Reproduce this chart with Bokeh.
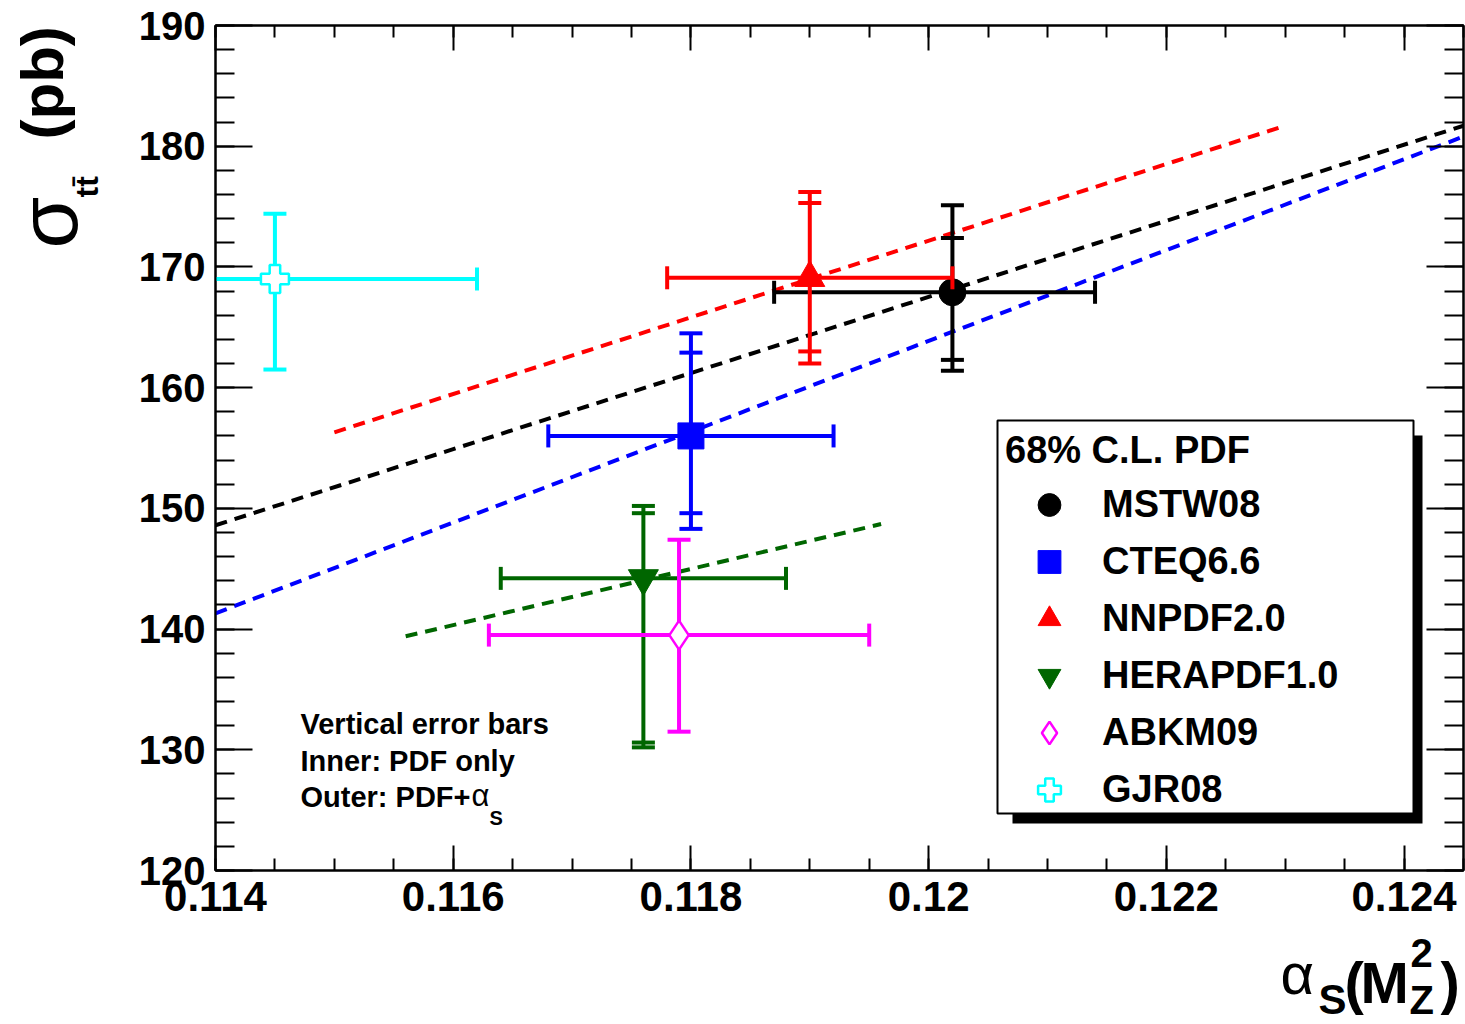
import numpy as np
from bokeh.plotting import figure
from bokeh.layouts import row, column
from bokeh.models import (Range1d, SingleIntervalTicker, LinearAxis, CustomJSTickFormatter,
                          Label, BoxAnnotation, Legend, LegendItem)
from bokeh.embed import file_html
from bokeh.resources import INLINE

# ---------------- data ----------------
names = ["MSTW08", "CTEQ6.6", "NNPDF2.0", "HERAPDF1.0", "ABKM09", "GJR08"]
alphas = [0.1202, 0.1180, 0.1190, 0.1176, 0.1179, 0.1145]
alphas_lo = [0.1187, 0.1168, 0.1178, 0.1164, 0.1163, 0.1128]
alphas_hi = [0.1214, 0.1192, 0.1202, 0.1188, 0.1195, 0.1162]
sigma = [167.9, 156.0, 169.1, 144.2, 139.5, 169.0]
inner_lo = [162.3, 149.6, 163.0, 130.6, 131.5, 161.5]
inner_hi = [172.4, 162.9, 175.3, 149.6, 147.4, 174.4]
outer_lo = [161.4, 148.3, 162.0, 130.2, None, None]
outer_hi = [175.1, 164.5, 176.2, 150.2, None, None]

fit_names = ["MSTW08", "CTEQ6.6", "NNPDF2.0", "HERAPDF1.0"]
fit_alpha_start = [0.1140, 0.1140, 0.1150, 0.1156]
fit_alpha_end = [0.1245, 0.1245, 0.1230, 0.1196]
fit_sigma_start = [148.6, 141.3, 156.3, 139.4]
fit_sigma_end = [181.7, 180.8, 181.7, 148.7]

x_tick_step = 0.002
y_tick_step = 10

# ---------------- styles ----------------
colors = {"MSTW08": "#000000", "CTEQ6.6": "#0000ff", "NNPDF2.0": "#ff0000",
          "HERAPDF1.0": "#006600", "ABKM09": "#ff00ff", "GJR08": "#00ffff"}
markers = {"MSTW08": ("circle", 27, True), "CTEQ6.6": ("square", 26, True),
           "NNPDF2.0": ("triangle", 30, True), "HERAPDF1.0": ("inverted_triangle", 30, True),
           "ABKM09": ("diamond", 29, False), "GJR08": ("plus", 28, False)}
FONT = "Liberation Sans"
BASELINE_FIX = 0.34   # empirical shift of Bokeh's alphabetic baseline, in em

X_MIN, X_MAX = 0.114, 0.1245
Y_MIN, Y_MAX = 120, 190

TOTAL_W, TOTAL_H = 1465, 1024
YT_W = 110          # width of the strip holding the y title
XT_H = 94           # height of the strip holding the x title
MAIN_W = TOTAL_W - YT_W
MAIN_H = TOTAL_H - XT_H
FRAME_L, FRAME_T, FRAME_R, FRAME_B = 215, 25, 1463, 870   # page pixels

p = figure(width=MAIN_W, height=MAIN_H, output_backend="svg", toolbar_location=None,
           x_range=Range1d(X_MIN, X_MAX), y_range=Range1d(Y_MIN, Y_MAX),
           x_axis_type=None, y_axis_type=None,
           min_border_left=FRAME_L - YT_W, min_border_right=TOTAL_W - FRAME_R,
           min_border_top=FRAME_T, min_border_bottom=MAIN_H - FRAME_B)
p.background_fill_color = "white"
p.border_fill_color = "white"
p.outline_line_color = "black"
p.outline_line_width = 2

xfmt = CustomJSTickFormatter(code="return String(Number(tick.toFixed(3)));")
yfmt = CustomJSTickFormatter(code="return tick.toFixed(0);")
blank = CustomJSTickFormatter(code="return '';")


def style_axis(ax, horizontal, labels):
    ax.axis_line_width = 2
    ax.axis_line_color = "black"
    ax.major_tick_line_width = 2
    ax.minor_tick_line_width = 2
    ax.major_tick_out = 0
    ax.minor_tick_out = 0
    if horizontal:
        ax.major_tick_in = 25
        ax.minor_tick_in = 12
    else:
        ax.major_tick_in = 37
        ax.minor_tick_in = 19
    ax.major_label_text_font = FONT
    ax.major_label_text_font_style = "bold"
    ax.major_label_text_color = "black"
    if not labels:
        ax.major_label_standoff = 0
        ax.major_label_text_font_size = "8px"


xb = LinearAxis(ticker=SingleIntervalTicker(interval=x_tick_step, num_minor_ticks=4), formatter=xfmt)
style_axis(xb, True, True)
xb.major_label_text_font_size = "42px"
xb.major_label_standoff = 11
xt = LinearAxis(ticker=SingleIntervalTicker(interval=x_tick_step, num_minor_ticks=4), formatter=blank)
style_axis(xt, True, False)
yl = LinearAxis(ticker=SingleIntervalTicker(interval=y_tick_step, num_minor_ticks=5), formatter=yfmt)
style_axis(yl, False, True)
yl.major_label_text_font_size = "40px"
yl.major_label_standoff = 10
yr = LinearAxis(ticker=SingleIntervalTicker(interval=y_tick_step, num_minor_ticks=5), formatter=blank)
style_axis(yr, False, False)
p.add_layout(xb, "below")
p.add_layout(xt, "above")
p.add_layout(yl, "left")
p.add_layout(yr, "right")

# fitted dashed lines
for i, n in enumerate(fit_names):
    p.line(x=[fit_alpha_start[i], fit_alpha_end[i]], y=[fit_sigma_start[i], fit_sigma_end[i]],
           line_color=colors[n], line_width=4, line_dash="12 8")

# points with error bars
marker_renderers = {}
for i, n in enumerate(names):
    c = colors[n]
    lo = outer_lo[i] if outer_lo[i] is not None else inner_lo[i]
    hi = outer_hi[i] if outer_hi[i] is not None else inner_hi[i]
    p.segment(x0=[alphas[i]], y0=[lo], x1=[alphas[i]], y1=[hi], line_color=c, line_width=4)
    p.segment(x0=[alphas_lo[i]], y0=[sigma[i]], x1=[alphas_hi[i]], y1=[sigma[i]], line_color=c, line_width=4)
    caps_y = [inner_lo[i], inner_hi[i]]
    if outer_lo[i] is not None:
        caps_y += [outer_lo[i], outer_hi[i]]
    p.scatter(x=[alphas[i]] * len(caps_y), y=caps_y, marker="dash", size=23, line_color=c, line_width=4)
    p.scatter(x=[alphas_lo[i], alphas_hi[i]], y=[sigma[i], sigma[i]], marker="dash", angle=np.pi / 2,
              size=23, line_color=c, line_width=4)
    mk, sz, filled = markers[n]
    r = p.scatter(x=[alphas[i]], y=[sigma[i]], marker=mk, size=sz, line_color=c,
                  fill_color=c if filled else "white", line_width=1 if filled else 2.5)
    marker_renderers[n] = r


def make_label(text, x, y, size, bold=True, rotated=False):
    # x, y: screen position of the text's start on its baseline (frame relative, y up)
    if rotated:
        x = x - BASELINE_FIX * size
    else:
        y = y + BASELINE_FIX * size
    return Label(x=x, y=y, x_units="screen", y_units="screen", text=text,
                 text_font=FONT, text_font_size=f"{size}px",
                 text_font_style="bold" if bold else "normal", text_color="black",
                 text_align="left", text_baseline="alphabetic",
                 angle=np.pi / 2 if rotated else 0.0)


# ---------------- annotations inside the main frame (page pixel positions) ----------------
def sx(px):
    return px - FRAME_L


def sy(py):
    return FRAME_B - py


# legend box and shadow
p.add_layout(BoxAnnotation(left=sx(1012), right=sx(1422), top=sy(435), bottom=sy(823),
                           left_units="screen", right_units="screen", top_units="screen",
                           bottom_units="screen", fill_color="black", fill_alpha=1,
                           line_alpha=0))
p.add_layout(BoxAnnotation(left=sx(997), right=sx(1413), top=sy(420), bottom=sy(813),
                           left_units="screen", right_units="screen", top_units="screen",
                           bottom_units="screen", fill_color="white", fill_alpha=1,
                           line_color="black", line_alpha=1, line_width=2))

legend = Legend(items=[LegendItem(label=n, renderers=[marker_renderers[n]]) for n in names],
                location=(sx(997), sy(826)), title="68% C.L. PDF",
                title_text_font=FONT, title_text_font_style="bold", title_text_font_size="38px",
                title_text_color="black", title_standoff=4,
                label_text_font=FONT, label_text_font_style="bold", label_text_color="black",
                label_text_font_size="38px", glyph_width=88, glyph_height=57, label_height=57,
                spacing=0, padding=8, margin=0, label_standoff=9, label_width=303,
                border_line_alpha=0, background_fill_alpha=0)
p.add_layout(legend)

# note text
for txt, px, py, size, bold in [("Vertical error bars", 300, 733, 29, True),
                                ("Inner: PDF only", 300, 770, 29, True),
                                ("Outer: PDF+", 300, 806, 29, True),
                                ("\u03b1", 471, 806, 31, False),
                                ("S", 489, 824, 20, True)]:
    p.add_layout(make_label(txt, sx(px), sy(py), size, bold))


# ---------------- title strips ----------------
def strip(w, h):
    f = figure(width=w, height=h, output_backend="svg", toolbar_location=None,
               x_range=Range1d(0, 1), y_range=Range1d(0, 1), x_axis_type=None, y_axis_type=None,
               min_border=0, min_border_left=0, min_border_right=0, min_border_top=0,
               min_border_bottom=0)
    f.outline_line_color = None
    f.background_fill_color = "white"
    f.border_fill_color = "white"
    return f


# y title strip: in a row its frame is aligned with the main frame (page y 25..870)
yfig = strip(YT_W, MAIN_H)
for txt, px, py, size, bold in [("(pb)", 62, 139, 60, True),
                                ("\u03c3", 76, 248, 84, False),
                                ("tt\u0304", 97, 197, 32, True)]:
    yfig.add_layout(make_label(txt, px, FRAME_B - py, size, bold, rotated=True))

# x title strip: frame is the whole strip (page y 930..1024)
xfig = strip(TOTAL_W, XT_H)
for txt, px, py, size, bold in [("\u03b1", 1280, 993, 58, False),
                                ("S", 1318, 1013, 42, True),
                                ("(", 1344, 1002, 58, True),
                                ("M", 1360, 1002, 58, True),
                                ("2", 1410, 966, 40, True),
                                ("Z", 1409, 1013, 40, True),
                                (")", 1440, 1002, 58, True)]:
    xfig.add_layout(make_label(txt, px, TOTAL_H - py, size, bold))

layout = column(row(yfig, p, spacing=0), xfig, spacing=0)
open("out.html", "w").write(file_html(layout, INLINE))
